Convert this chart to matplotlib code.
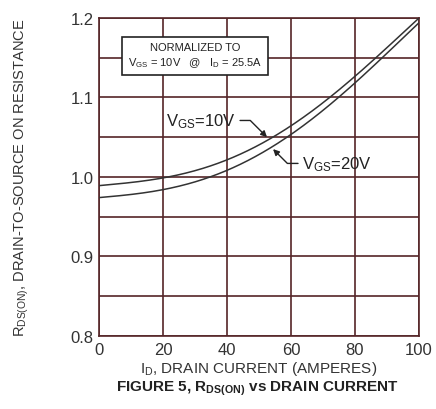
import matplotlib
matplotlib.use("Agg")
import matplotlib.pyplot as plt
import numpy as np

plt.rcParams['font.family'] = ['Liberation Sans', 'DejaVu Sans']

drain_current = [0, 10, 20, 30, 40, 50, 60, 70, 80, 90, 100]
rds_vgs10 = [0.989, 0.993, 0.999, 1.008, 1.021, 1.040, 1.065, 1.093, 1.127, 1.162, 1.200]
rds_vgs20 = [0.974, 0.978, 0.984, 0.994, 1.008, 1.028, 1.054, 1.083, 1.119, 1.155, 1.194]

x_ticks = [0, 20, 40, 60, 80, 100]
y_ticks = [0.8, 0.9, 1.0, 1.1, 1.2]
y_grid = [0.8, 0.85, 0.9, 0.95, 1.0, 1.05, 1.1, 1.15, 1.2]

grid_color = '#552528'
curve_color = '#333333'

fig = plt.figure(figsize=(4.36, 4.10), dpi=100)
ax = fig.add_axes([0.227, 0.178, 0.734, 0.776])

xs = np.linspace(0, 100, 300)
for ys in (rds_vgs10, rds_vgs20):
    c = np.polyfit(drain_current, ys, 4)
    ax.plot(xs, np.polyval(c, xs), color=curve_color, lw=1.1, zorder=3)

for gx in x_ticks:
    ax.axvline(gx, color=grid_color, lw=1.2, zorder=1)
for gy in y_grid:
    ax.axhline(gy, color=grid_color, lw=1.2, zorder=1)

ax.set_xlim(0, 100)
ax.set_ylim(0.8, 1.2)
ax.set_xticks(x_ticks)
ax.set_yticks(y_ticks)
ax.set_yticklabels(['0.8', '0.9', '1.0', '1.1', '1.2'])
ax.tick_params(length=0, labelsize=12, colors='#333333', pad=4)
for s in ax.spines.values():
    s.set_color(grid_color)
    s.set_linewidth(1.2)

# normalized box
ax.text(30, 1.153, 'NORMALIZED TO\n$\\mathregular{V_{GS}}$ = 10V   @   $\\mathregular{I_D}$ = 25.5A',
        ha='center', va='center', fontsize=8, color='#222222', linespacing=1.35,
        bbox=dict(boxstyle='square,pad=0.55', fc='white', ec='#222222', lw=1.2), zorder=5)

# annotations
arrow_kw = dict(arrowstyle='-|>', color='#222222', lw=1.0,
                connectionstyle='angle,angleA=0,angleB=-45,rad=0',
                shrinkA=1, shrinkB=0, mutation_scale=9)
ax.annotate('$\\mathregular{V_{GS}}$=10V', xy=(52.5, 1.050), xytext=(21, 1.071),
            fontsize=12, color='#222222', va='center', ha='left',
            arrowprops=arrow_kw, zorder=6)
ax.annotate('$\\mathregular{V_{GS}}$=20V', xy=(54.4, 1.035), xytext=(63.5, 1.017),
            fontsize=12, color='#222222', va='center', ha='left',
            arrowprops=arrow_kw, zorder=6)

ax.set_xlabel('$\\mathregular{I_D}$, DRAIN CURRENT (AMPERES)', fontsize=11, color='#333333', labelpad=2)
ax.set_ylabel('$\\mathregular{R_{DS(ON)}}$, DRAIN-TO-SOURCE ON RESISTANCE', fontsize=10.5, color='#333333', labelpad=28)

fig.text(0.59, 0.045, 'FIGURE 5, $\\mathregular{R_{DS(ON)}}$ vs DRAIN CURRENT', ha='center',
         fontsize=11, fontweight='bold', color='#222222')

fig.savefig('out.png', dpi=100)
